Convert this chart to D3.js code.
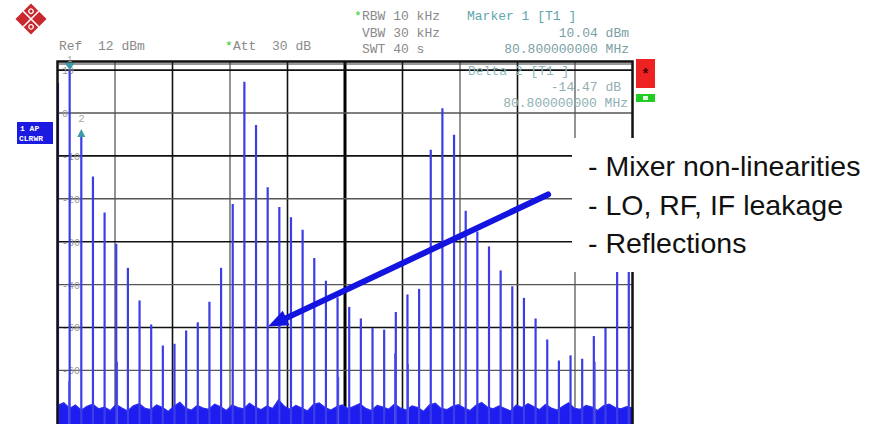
<!DOCTYPE html>
<html>
<head>
<meta charset="utf-8">
<script src="https://cdn.jsdelivr.net/npm/d3@7"></script>
<style>
body { margin: 0; background: #fff; }
#chart svg { display: block; }
</style>
</head>
<body>
<div id="chart"></div>
<script>
// spectrum lines : harmonics of 80.8 MHz (MHz)
var lineFreqs = [0, 80.8, 161.6, 242.4, 323.2, 404, 484.8, 565.6, 646.4, 727.2,
  808, 888.8, 969.6, 1050.4, 1131.2, 1212, 1292.8, 1373.6, 1454.4, 1535.2,
  1616, 1696.8, 1777.6, 1858.4, 1939.2, 2020, 2100.8, 2181.6, 2262.4, 2343.2,
  2424, 2504.8, 2585.6, 2666.4, 2747.2, 2828, 2908.8, 2989.6, 3070.4, 3151.2,
  3232, 3312.8, 3393.6, 3474.4, 3555.2, 3636, 3716.8, 3797.6, 3878.4, 3959.2];
// level of each line (dBm)
var lineLevels = [7, 10.04, -4.43, -14.8, -23.2, -30.5, -36.1, -43.7, -49.3, -54.2,
  -53.8, -50.7, -48.8, -44, -36.1, -21.2, 7.3, -2.8, -17.3, -21.9,
  -24.3, -27.2, -33.8, -39.1, -43, -45.2, -47.9, -50.1, -50.5, -46.4,
  -42.3, -41, -8.6, 1.1, -5.1, -22.8, -27.6, -31.1, -36.7, -40.4,
  -43.1, -47.9, -52.8, -57.7, -56.5, -57.3, -52, -50.1, -36.7, -34];
// small spurs next to some lines
var spurFreqs = [75, 412, 1946, 2336, 2430, 3725];
var spurLevels = [-62.5, -58, -61.5, -56, -58.5, -58];
// noise floor, read across the sweep (dBm)
var noiseLevels = [
  -68.2,-67.6,-68.9,-68.1,-69.3,-68.4,-67.9,-69.0,-68.6,-69.4,
  -68.0,-68.8,-69.5,-68.3,-67.8,-68.9,-69.2,-68.1,-68.7,-69.6,
  -68.4,-67.5,-68.9,-69.3,-68.2,-68.8,-69.1,-67.9,-68.5,-69.4,
  -68.1,-68.7,-69.0,-67.7,-68.6,-69.2,-68.3,-68.9,-66.9,-68.4,
  -69.1,-68.2,-68.8,-69.5,-68.0,-67.6,-68.7,-69.3,-68.5,-68.1,
  -69.0,-68.4,-67.8,-68.9,-69.4,-68.2,-68.6,-69.1,-67.9,-68.8,
  -69.3,-68.3,-68.7,-69.6,-68.1,-67.7,-68.9,-69.2,-68.4,-68.0,
  -68.8,-69.4,-68.2,-67.5,-68.6,-69.0,-68.3,-68.9,-69.5,-68.1,
  -68.7,-67.8,-68.5,-69.2,-68.0,-68.8,-69.3,-68.4,-67.6,-68.9,
  -69.1,-68.2,-68.6,-69.4,-68.3,-67.9,-68.7,-69.0,-68.5,-68.8];
var levelTicks = [10, 0, -10, -20, -30, -40, -50, -60, -70, -80];
var tickLabels = ['10', '0', '-10', '-20', '-30', '-40', '-50', '-60', '-70', '-80'];
var divisions = [0, 1, 2, 3, 4, 5, 6, 7, 8, 9, 10];
var notes = ['- Mixer non-linearities', '- LO, RF, IF leakage', '- Reflections'];
// arrow annotation, from [MHz, dBm] to [MHz, dBm]
var arrowFrom = [3400, -19];
var arrowTo = [1457, -49.8];

var width = 871, height = 424;
var plot = { left: 57.5, right: 632.5, top: 61.5, bottom: 490.5 };
var mono = "'Liberation Mono', 'DejaVu Sans Mono', monospace";

var svg = d3.select('#chart').append('svg')
  .attr('width', width).attr('height', height)
  .style('background', '#fff');

var x = d3.scaleLinear().domain([0, 3985]).range([58, plot.right]);
var y = d3.scaleLinear().domain([12, -88]).range([plot.top, plot.bottom]);
var xDiv = d3.scaleLinear().domain([0, 10]).range([plot.left, plot.right]);
var xNoise = d3.scaleLinear().domain([0, noiseLevels.length - 1]).range([0, 3985]);

// grid
var grid = svg.append('g');
grid.selectAll('line.v')
  .data(divisions.slice(1, 10))
  .enter().append('line')
  .attr('x1', d => xDiv(d)).attr('x2', d => xDiv(d))
  .attr('y1', plot.top).attr('y2', plot.bottom)
  .attr('stroke', d => (d == 5 ? '#000' : (d % 2 == 0 || d == 6) ? '#111' : '#666'))
  .attr('stroke-width', d => d == 5 ? 3 : (d % 2 == 0 || d == 6) ? 1.6 : 1.4);
grid.selectAll('line.h')
  .data(levelTicks)
  .enter().append('line')
  .attr('x1', plot.left).attr('x2', plot.right)
  .attr('y1', d => y(d)).attr('y2', d => y(d))
  .attr('stroke', (d, i) => i % 2 == 0 ? '#111' : '#555')
  .attr('stroke-width', (d, i) => i % 2 == 0 ? 1.6 : 1.4);

grid.selectAll('text')
  .data(levelTicks.slice(0, 8))
  .enter().append('text')
  .attr('x', 62).attr('y', d => y(d) + 4)
  .style('font', '10px ' + mono)
  .attr('fill', '#999')
  .text((d, i) => tickLabels[i]);

// noise floor
var noiseArea = d3.area()
  .x((d, i) => x(xNoise(i)))
  .y0(y(-88))
  .y1(d => y(d));
svg.append('path')
  .datum(noiseLevels)
  .attr('d', noiseArea)
  .attr('fill', '#1d1df0')
  .attr('stroke', '#2a2af0')
  .attr('stroke-width', 1.5);

// spectral lines
svg.append('g').selectAll('line')
  .data(lineLevels)
  .enter().append('line')
  .attr('x1', (d, i) => x(lineFreqs[i])).attr('x2', (d, i) => x(lineFreqs[i]))
  .attr('y1', d => y(d)).attr('y2', y(-88))
  .attr('stroke', '#3d3de6')
  .attr('stroke-width', 2.2);
svg.append('g').selectAll('line')
  .data(spurLevels)
  .enter().append('line')
  .attr('x1', (d, i) => x(spurFreqs[i])).attr('x2', (d, i) => x(spurFreqs[i]))
  .attr('y1', d => y(d)).attr('y2', y(-88))
  .attr('stroke', '#5252e6')
  .attr('stroke-width', 1.3);

// frame
svg.append('rect')
  .attr('x', plot.left).attr('y', plot.top)
  .attr('width', plot.right - plot.left).attr('height', plot.bottom - plot.top)
  .attr('fill', 'none').attr('stroke', '#111').attr('stroke-width', 2.5);
svg.append('line')
  .attr('x1', plot.left).attr('x2', plot.right)
  .attr('y1', plot.top + 2.5).attr('y2', plot.top + 2.5)
  .attr('stroke', '#333').attr('stroke-width', 1);

// markers
var m1x = x(lineFreqs[1]), m1y = y(lineLevels[1]);
svg.append('path')
  .attr('d', `M${m1x - 5},${m1y - 7}L${m1x + 5},${m1y - 7}L${m1x},${m1y}Z`)
  .attr('fill', '#3b9aa4');
svg.append('text').attr('x', m1x - 2.5).attr('y', m1y - 8)
  .style('font', '8.5px ' + mono).attr('fill', '#999').text('1');
var m2x = x(lineFreqs[2]), m2y = y(lineLevels[2]);
svg.append('path')
  .attr('d', `M${m2x - 4},${m2y + 5}L${m2x + 4},${m2y + 5}L${m2x},${m2y - 3}Z`)
  .attr('fill', '#3b9aa4');
svg.append('text').attr('x', m2x - 3).attr('y', m2y - 10)
  .style('font', '11px ' + mono).attr('fill', '#aaa').text('2');

// instrument header text
function label(tx, ty, str, color, anchor) {
  return svg.append('text')
    .attr('x', tx).attr('y', ty)
    .attr('text-anchor', anchor || 'start')
    .style('font', '13px ' + mono)
    .style('white-space', 'pre')
    .attr('fill', color)
    .text(str);
}
var grey = '#8a8a8a', teal = '#5ea6ad';
label(354, 20, '*', '#3c3');
label(362, 20, 'RBW 10 kHz', grey);
label(362, 37, 'VBW 30 kHz', grey);
label(362, 53, 'SWT 40 s', grey);
label(467, 20, 'Marker 1 [T1 ]', teal);
label(629, 37, '10.04 dBm', '#7aa0a4', 'end');
label(629, 53, '80.800000000 MHz', '#7aa0a4', 'end');
label(59, 50, 'Ref  12 dBm', grey);
label(225, 50, '*', '#3c3');
label(233, 50, 'Att  30 dB', grey);
label(468, 75, 'Delta 2 [T1 ]', '#8fb8bc');
label(621, 91, '-14.47 dB', '#8fb0b2', 'end');
label(628, 107, '80.800000000 MHz', '#8fb0b2', 'end');

// side indicators
svg.append('rect').attr('x', 636).attr('y', 59).attr('width', 19).attr('height', 29).attr('fill', '#ee2222');
svg.append('text').attr('x', 645.5).attr('y', 79).attr('text-anchor', 'middle')
  .style('font', 'bold 14px ' + mono).attr('fill', '#400').text('*');
svg.append('rect').attr('x', 636).attr('y', 94).attr('width', 19).attr('height', 8).attr('fill', '#22cc22');
svg.append('rect').attr('x', 643).attr('y', 96).attr('width', 5).attr('height', 4).attr('fill', '#dfd');

svg.append('rect').attr('x', 17).attr('y', 122).attr('width', 36).attr('height', 22).attr('fill', '#1a1ae0');
svg.append('text').attr('x', 20).attr('y', 131).style('font', 'bold 8px ' + mono)
  .style('white-space', 'pre').attr('fill', '#fff').text('1 AP');
svg.append('text').attr('x', 19).attr('y', 141).style('font', 'bold 8px ' + mono)
  .attr('fill', '#fff').text('CLRWR');

// logo
var logo = svg.append('g').attr('transform', 'translate(31,19) rotate(45)');
logo.append('rect').attr('x', -11).attr('y', -11).attr('width', 22).attr('height', 22).attr('fill', '#c8282e');
logo.append('line').attr('x1', 0).attr('x2', 0).attr('y1', -11).attr('y2', 11).attr('stroke', '#fff').attr('stroke-width', 1.6);
logo.append('line').attr('y1', 0).attr('y2', 0).attr('x1', -11).attr('x2', 11).attr('stroke', '#fff').attr('stroke-width', 1.6);
[[-5.5, -5.5], [5.5, 5.5]].forEach(function(c) {
  logo.append('circle').attr('cx', c[0]).attr('cy', c[1]).attr('r', 2.2)
    .attr('fill', 'none').attr('stroke', '#fff').attr('stroke-width', 1.2);
});

// white panel with notes
svg.append('rect').attr('x', 572).attr('y', 138).attr('width', 299).attr('height', 134).attr('fill', '#fff');
svg.append('g').selectAll('text')
  .data(notes)
  .enter().append('text')
  .attr('x', 588)
  .attr('y', (d, i) => [176, 215, 253][i])
  .style('font', "28.5px 'Liberation Sans', Arial, sans-serif")
  .attr('fill', '#111')
  .text(d => d);

// arrow
var ax0 = x(arrowFrom[0]), ay0 = y(arrowFrom[1]);
var ax1 = x(arrowTo[0]), ay1 = y(arrowTo[1]);
var ang = Math.atan2(ay1 - ay0, ax1 - ax0);
var headLen = 20, headW = 8;
var bx = ax1 - headLen * Math.cos(ang), by = ay1 - headLen * Math.sin(ang);
svg.append('line')
  .attr('x1', ax0).attr('y1', ay0).attr('x2', bx).attr('y2', by)
  .attr('stroke', '#1414e0').attr('stroke-width', 6).attr('stroke-linecap', 'round');
svg.append('path')
  .attr('d', `M${ax1},${ay1}L${bx + headW * Math.sin(ang)},${by - headW * Math.cos(ang)}L${bx - headW * Math.sin(ang)},${by + headW * Math.cos(ang)}Z`)
  .attr('fill', '#1414e0');
</script>
</body>
</html>
